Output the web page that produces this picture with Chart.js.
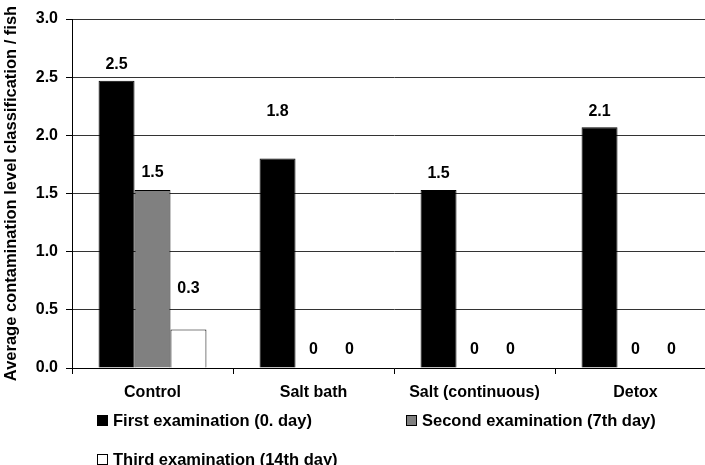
<!DOCTYPE html>
<html>
<head>
<meta charset="utf-8">
<script src="https://cdn.jsdelivr.net/npm/chart.js@4/dist/chart.umd.min.js"></script>
<style>
    html, body {
        margin: 0;
        padding: 0;
        background: #fff;
        overflow: hidden;
    }
    #wrap {
        position: relative;
        width: 705px;
        height: 465px;
        overflow: hidden;
    }
    #chart {
        position: absolute;
        left: 0;
        top: 0;
    }
    .legend-item {
        position: absolute;
        font: bold 16.5px "Liberation Sans", Arial, sans-serif;
        color: #000;
        white-space: nowrap;
        line-height: 16px;
    }
    .legend-item .box {
        display: inline-block;
        width: 9px;
        height: 9px;
        border: 1px solid #000;
        margin-right: 5px;
        vertical-align: 0px;
    }
</style>
</head>
<body>
<div id="wrap">
    <canvas id="chart" width="720" height="465"></canvas>
    <div id="legend"></div>
</div>
<script>
const categories = ["Control", "Salt bath", "Salt (continuous)", "Detox"];
const seriesNames = [
    "First examination (0. day)",
    "Second examination (7th day)",
    "Third examination (14th day)"
];
const firstExam = [2.47, 1.80, 1.53, 2.07];
const secondExam = [1.53, 0, 0, 0];
const thirdExam = [0.33, 0, 0, 0];
const yTicks = [0, 0.5, 1.0, 1.5, 2.0, 2.5, 3.0];

const seriesColors = ["#000000", "#808080", "#ffffff"];
const FONT = "'Liberation Sans', Arial, sans-serif";

// how far above the bar top each value label sits (px), per dataset / category
const labelLift = [
    [16, 47, 16, 16],
    [17, 18, 18, 18],
    [41, 18, 18, 18]
];

const formatValue = v => (v === 0 ? "0" : v.toFixed(1));

/* Value labels */

const valueLabels = {
    id: "valueLabels",
    afterDatasetsDraw(chart) {
        const ctx = chart.ctx;
        ctx.save();
        ctx.font = "bold 16px " + FONT;
        ctx.fillStyle = "#000";
        ctx.textAlign = "center";
        ctx.textBaseline = "middle";
        chart.data.datasets.forEach((ds, di) => {
            chart.getDatasetMeta(di).data.forEach((bar, i) => {
                ctx.fillText(formatValue(ds.data[i]), bar.x, bar.y - labelLift[di][i]);
            });
        });
        ctx.restore();
    }
};

/* Chart */

new Chart(document.querySelector("#chart"), {
    type: "bar",
    data: {
        labels: categories,
        datasets: [firstExam, secondExam, thirdExam].map((values, i) => ({
            label: seriesNames[i],
            data: values,
            backgroundColor: seriesColors[i],
            borderColor: "#000",
            borderWidth: 1,
            categoryPercentage: 0.67,
            barPercentage: 1
        }))
    },
    options: {
        responsive: false,
        devicePixelRatio: 1,
        animation: false,
        layout: {
            padding: { top: 19, right: 4, bottom: 0, left: 0 }
        },
        plugins: {
            legend: { display: false },
            tooltip: { enabled: false }
        },
        scales: {
            x: {
                grid: {
                    offset: true,
                    drawOnChartArea: false,
                    drawTicks: true,
                    tickLength: 6,
                    color: "#000"
                },
                border: { color: "#000", width: 1 },
                ticks: {
                    color: "#000",
                    font: { family: FONT, size: 16, weight: "bold" },
                    padding: 9
                },
                afterFit(scale) {
                    scale.height = 97;
                }
            },
            y: {
                min: 0,
                max: 3,
                afterBuildTicks(scale) {
                    scale.ticks = yTicks.map(v => ({ value: v }));
                },
                grid: {
                    color: "#333",
                    tickColor: "#000",
                    tickLength: 6
                },
                border: { color: "#000", width: 1 },
                ticks: {
                    color: "#000",
                    font: { family: FONT, size: 16, weight: "bold" },
                    padding: 8,
                    callback: v => Number(v).toFixed(1)
                },
                title: {
                    display: true,
                    text: "Average contamination level classification / fish",
                    color: "#000",
                    font: { family: FONT, size: 16.5, weight: "bold" },
                    padding: { top: 2, bottom: 0 }
                },
                afterFit(scale) {
                    scale.width = 72;
                }
            }
        }
    },
    plugins: [valueLabels]
});

/* Legend */

const legendSpots = [
    { left: 97, top: 412 },
    { left: 406, top: 412 },
    { left: 97, top: 451 }
];

const legendEl = document.querySelector("#legend");
seriesNames.forEach((name, i) => {
    const item = document.createElement("div");
    item.className = "legend-item";
    item.style.left = legendSpots[i].left + "px";
    item.style.top = legendSpots[i].top + "px";
    item.innerHTML = `<span class="box" style="background:${seriesColors[i]}"></span>${name}`;
    legendEl.appendChild(item);
});
</script>
</body>
</html>
